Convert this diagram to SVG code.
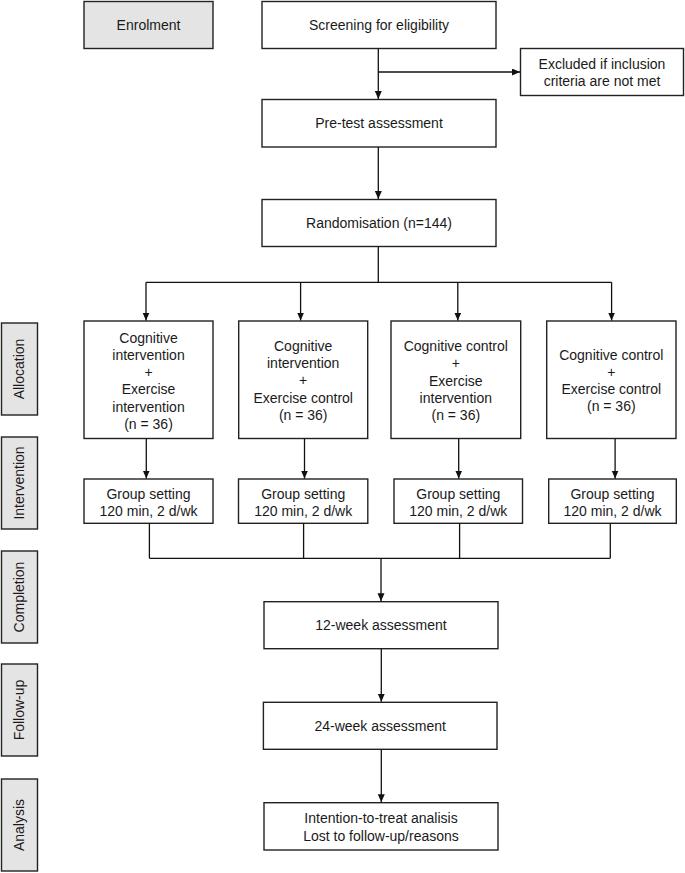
<svg xmlns="http://www.w3.org/2000/svg" width="685" height="873" viewBox="0 0 685 873">
<style>
.box{fill:#fff;stroke:#222;stroke-width:1.4}
.phase{fill:#e4e4e4;stroke:#222;stroke-width:1.4}
.t{font-family:"Liberation Sans",Arial,sans-serif;font-size:14px;fill:#1a1a1a;text-anchor:middle}
.ln{fill:none;stroke:#111;stroke-width:1.3}
</style>
<defs>
<marker id="ah" markerUnits="userSpaceOnUse" markerWidth="8" markerHeight="8" refX="8" refY="3.5" orient="auto">
<path d="M0,0 L8,3.5 L0,7 z" fill="#111"/>
</marker>
</defs>
<rect width="685" height="873" fill="#fff"/>

<g id="phase-enrolment"><rect class="phase" x="84" y="1.5" width="129" height="47"/><text class="t" x="148.5" y="30">Enrolment</text></g>
<g id="phase-allocation"><rect class="phase" x="1.5" y="323" width="36" height="92"/><text class="t" transform="translate(24.3,369) rotate(-90)">Allocation</text></g>
<g id="phase-intervention"><rect class="phase" x="1.5" y="437" width="36" height="92"/><text class="t" transform="translate(24.3,483) rotate(-90)">Intervention</text></g>
<g id="phase-completion"><rect class="phase" x="1.5" y="551" width="36" height="92"/><text class="t" transform="translate(24.3,597) rotate(-90)">Completion</text></g>
<g id="phase-followup"><rect class="phase" x="1.5" y="664" width="36" height="92"/><text class="t" transform="translate(24.3,710) rotate(-90)">Follow-up</text></g>
<g id="phase-analysis"><rect class="phase" x="1.5" y="779" width="36" height="92"/><text class="t" transform="translate(24.3,825) rotate(-90)">Analysis</text></g>

<g id="screening"><rect class="box" x="262" y="1.5" width="234" height="47"/><text class="t" x="379" y="30">Screening for eligibility</text></g>
<g id="excluded"><rect class="box" x="520.5" y="48.5" width="163" height="47"/><text class="t" x="602" y="69.3">Excluded if inclusion</text><text class="t" x="602" y="86">criteria are not met</text></g>
<g id="pretest"><rect class="box" x="262" y="99.5" width="234" height="47.5"/><text class="t" x="379" y="128">Pre-test assessment</text></g>
<g id="randomisation"><rect class="box" x="262" y="199.5" width="234" height="47"/><text class="t" x="379" y="228">Randomisation (n=144)</text></g>

<g id="alloc1"><rect class="box" x="84" y="321" width="129" height="117.5"/>
<text class="t" x="148.5" y="342.5">Cognitive</text><text class="t" x="148.5" y="359.8">intervention</text><text class="t" x="148.5" y="377.1">+</text><text class="t" x="148.5" y="394.4">Exercise</text><text class="t" x="148.5" y="411.7">intervention</text><text class="t" x="148.5" y="429">(n = 36)</text></g>
<g id="alloc2"><rect class="box" x="238.7" y="321" width="129" height="117.5"/>
<text class="t" x="303.2" y="350.7">Cognitive</text><text class="t" x="303.2" y="368">intervention</text><text class="t" x="303.2" y="385.3">+</text><text class="t" x="303.2" y="402.6">Exercise control</text><text class="t" x="303.2" y="419.9">(n = 36)</text></g>
<g id="alloc3"><rect class="box" x="391" y="321" width="129.7" height="117.5"/>
<text class="t" x="455.8" y="351">Cognitive control</text><text class="t" x="455.8" y="368.3">+</text><text class="t" x="455.8" y="385.6">Exercise</text><text class="t" x="455.8" y="402.9">intervention</text><text class="t" x="455.8" y="420.2">(n = 36)</text></g>
<g id="alloc4"><rect class="box" x="546.7" y="321" width="129.3" height="117.5"/>
<text class="t" x="611.3" y="359.5">Cognitive control</text><text class="t" x="611.3" y="376.8">+</text><text class="t" x="611.3" y="394.1">Exercise control</text><text class="t" x="611.3" y="411.4">(n = 36)</text></g>

<g id="group1"><rect class="box" x="84" y="479" width="129" height="44.3"/><text class="t" x="148.5" y="499">Group setting</text><text class="t" x="148.5" y="515.7">120 min, 2 d/wk</text></g>
<g id="group2"><rect class="box" x="238.5" y="479" width="129.3" height="44.3"/><text class="t" x="303.2" y="499">Group setting</text><text class="t" x="303.2" y="515.7">120 min, 2 d/wk</text></g>
<g id="group3"><rect class="box" x="394" y="479" width="128.5" height="44.3"/><text class="t" x="458.3" y="499">Group setting</text><text class="t" x="458.3" y="515.7">120 min, 2 d/wk</text></g>
<g id="group4"><rect class="box" x="548.7" y="479" width="127.6" height="44.3"/><text class="t" x="612.5" y="499">Group setting</text><text class="t" x="612.5" y="515.7">120 min, 2 d/wk</text></g>

<g id="week12"><rect class="box" x="264" y="601.7" width="234" height="47"/><text class="t" x="381" y="630">12-week assessment</text></g>
<g id="week24"><rect class="box" x="263.4" y="702.3" width="233.6" height="47"/><text class="t" x="380.2" y="730.8">24-week assessment</text></g>
<g id="analysis"><rect class="box" x="264" y="802.7" width="234" height="47.3"/><text class="t" x="381" y="823.3">Intention-to-treat analisis</text><text class="t" x="381" y="841">Lost to follow-up/reasons</text></g>

<g id="connectors">
<path class="ln" d="M378.3,48.5 V99" marker-end="url(#ah)"/>
<path class="ln" d="M378.3,72 H520" marker-end="url(#ah)"/>
<path class="ln" d="M378.3,147 V199" marker-end="url(#ah)"/>
<path class="ln" d="M378.3,246.5 V282.3"/>
<path class="ln" d="M146,282.3 H611.6"/>
<path class="ln" d="M146,282.3 V320.5" marker-end="url(#ah)"/>
<path class="ln" d="M300.6,282.3 V320.5" marker-end="url(#ah)"/>
<path class="ln" d="M457.8,282.3 V320.5" marker-end="url(#ah)"/>
<path class="ln" d="M611.6,282.3 V320.5" marker-end="url(#ah)"/>
<path class="ln" d="M146.3,438.5 V478.5" marker-end="url(#ah)"/>
<path class="ln" d="M304.5,438.5 V478.5" marker-end="url(#ah)"/>
<path class="ln" d="M458.7,438.5 V478.5" marker-end="url(#ah)"/>
<path class="ln" d="M615.1,438.5 V478.5" marker-end="url(#ah)"/>
<path class="ln" d="M149.4,523.3 V558.3 M303.6,523.3 V558.3 M459.6,523.3 V558.3 M610.3,523.3 V558.3 M149.4,558.3 H610.3"/>
<path class="ln" d="M381,558.3 V601.2" marker-end="url(#ah)"/>
<path class="ln" d="M381.3,648.7 V701.8" marker-end="url(#ah)"/>
<path class="ln" d="M381.3,749.3 V802.2" marker-end="url(#ah)"/>
</g>
</svg>
